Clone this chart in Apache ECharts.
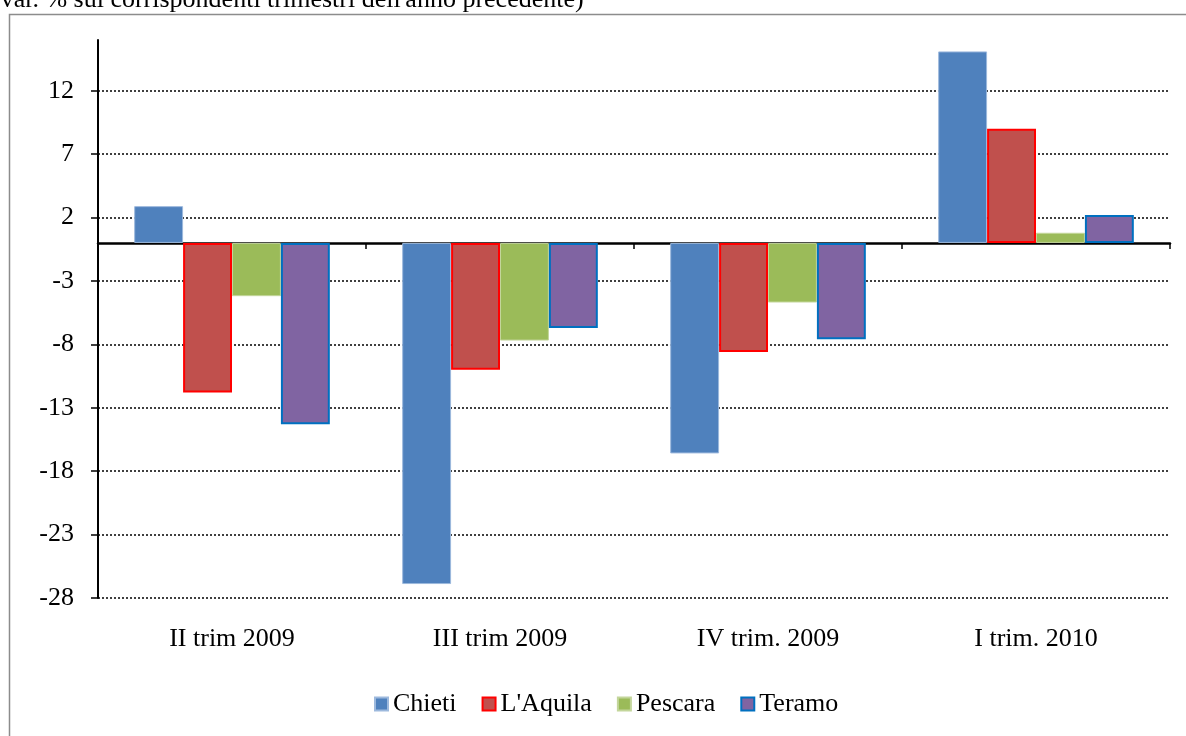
<!DOCTYPE html>
<html><head><meta charset="utf-8">
<script src="https://cdn.jsdelivr.net/npm/echarts@6/dist/echarts.min.js"></script>
<style>html,body{margin:0;padding:0;background:#fff}#c{width:1186px;height:736px}</style>
</head><body><div id="c"></div>
<script>
const categories = ['II trim 2009', 'III trim 2009', 'IV trim. 2009', 'I trim. 2010'];
const chieti = [2.9, -26.9, -16.6, 15.1];
const aquila = [-11.8, -10.0, -8.6, 9.0];
const pescara = [-4.2, -7.7, -4.7, 0.8];
const teramo = [-14.3, -6.7, -7.6, 2.2];
const yTicks = [-28, -23, -18, -13, -8, -3, 2, 7, 12];
const titleText = "(var. % sui corrispondenti trimestri dell'anno precedente)";

const font = 'Liberation Serif';
const chart = echarts.init(document.getElementById('c'));
function s(name, data, color, border, bw) {
  return { name, type: 'bar', data, xAxisIndex: 0, barGap: '0%', barCategoryGap: '27%',
    itemStyle: { color, borderColor: border, borderWidth: bw } };
}
chart.setOption({
  animation: false,
  graphic: [
    { type: 'rect', shape: { x: 9.5, y: 14.5, width: 1200, height: 800 }, style: { fill: 'none', stroke: '#8c8c8c', lineWidth: 1.5 } },
    { type: 'text', left: -8, top: -13, style: { text: titleText, font: '26px "Liberation Serif"', fill: '#000' } }
  ],
  grid: { left: 98, right: 16, top: 40, bottom: 138 },
  legend: {
    bottom: 14, left: 369, itemWidth: 13, itemHeight: 13, itemGap: 25, icon: 'rect',
    textStyle: { fontFamily: font, fontSize: 26, color: '#000' },
    data: ['Chieti', "L'Aquila", 'Pescara', 'Teramo']
  },
  xAxis: [
    { type: 'category', data: categories, boundaryGap: true,
      axisLine: { onZero: true, lineStyle: { color: '#000', width: 2.5 } },
      axisTick: { show: true, inside: false, length: 6, lineStyle: { color: '#000', width: 1.5 } },
      axisLabel: { show: false }, splitLine: { show: false } },
    { type: 'category', data: categories, position: 'bottom',
      axisLine: { show: false, onZero: false }, axisTick: { show: false },
      axisLabel: { fontFamily: font, fontSize: 26, color: '#000', margin: 28 } }
  ],
  yAxis: {
    type: 'value', min: -28, max: 16, interval: 5,
    axisLine: { show: true, lineStyle: { color: '#000', width: 2 } },
    axisTick: { show: true, length: 7, customValues: yTicks, lineStyle: { color: '#000', width: 1.5 } },
    axisLabel: { customValues: yTicks, fontFamily: font, fontSize: 26, color: '#000', margin: 24 },
    splitLine: { show: true, lineStyle: { color: '#000', type: [2, 2], width: 1.5 } }
  },
  series: [
    s('Chieti', chieti, '#4F81BD', '#9DB9DD', 1),
    s("L'Aquila", aquila, '#C0504D', '#FF0000', 2),
    s('Pescara', pescara, '#9BBB59', '#C3D69B', 1),
    s('Teramo', teramo, '#8064A2', '#0070C0', 2)
  ]
});
</script></body></html>
